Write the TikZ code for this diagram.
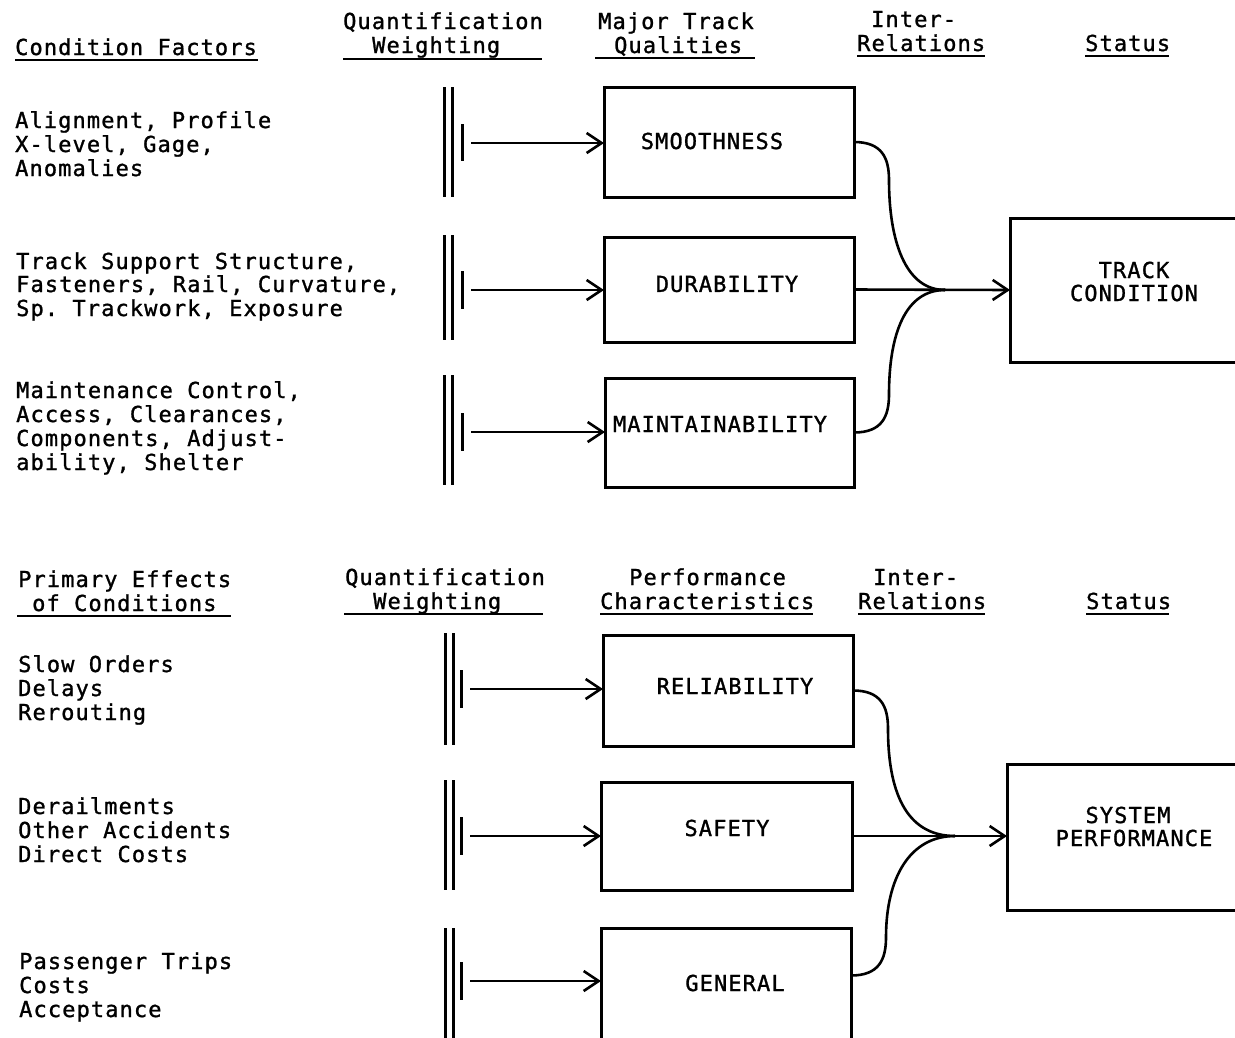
\documentclass[tikz,border=0pt]{standalone}
\usepackage{fontspec}
\setmainfont[LetterSpace=5,FakeBold=1.2]{DejaVu Sans Mono}
\usetikzlibrary{arrows.meta}
\frenchspacing
\begin{document}
\begin{tikzpicture}[x=1pt,y=-1pt,
  txt/.style={anchor=base west,inner sep=0pt,font=\fontsize{22}{24}\selectfont},
  lbl/.style={inner sep=0pt,font=\fontsize{22}{24}\selectfont},
  boxnode/.style={draw,line width=3pt,inner sep=0pt,outer sep=0pt},
  ln/.style={line width=2.6pt},
  arr/.style={line width=2.6pt,-{Straight Barb[length=15pt,width=20pt,line width=2.6pt]}},
  barline/.style={line width=3pt},
  uline/.style={line width=2.4pt}]
\useasboundingbox (0,0) rectangle (1235,1037);
\fill[white] (0,0) rectangle (1235,1037);

% ---------- top headers ----------
\node[txt] (h1) at (15,55) {Condition Factors};
\draw[uline] (15,60) -- (258,60);
\node[txt] (h2a) at (343,29) {Quantification};
\node[txt] (h2b) at (372,53) {Weighting};
\draw[uline] (343,59) -- (542,59);
\node[txt] (h3a) at (598,29) {Major Track};
\node[txt] (h3b) at (614,53) {Qualities};
\draw[uline] (595,58) -- (755,58);
\node[txt] (h4a) at (871,27) {Inter-};
\node[txt] (h4b) at (857,51) {Relations};
\draw[uline] (857,56) -- (985,56);
\node[txt] (h5) at (1085,51) {Status};
\draw[uline] (1085,56) -- (1169,56);

% ---------- top left texts ----------
\node[txt] (a1) at (15,128) {Alignment, Profile};
\node[txt] (a2) at (15,152) {X-level, Gage,};
\node[txt] (a3) at (15,176) {Anomalies};
\node[txt] (b1) at (16,269) {Track Support Structure,};
\node[txt] (b2) at (16,292) {Fasteners, Rail, Curvature,};
\node[txt] (b3) at (16,316) {Sp. Trackwork, Exposure};
\node[txt] (c1) at (16,398) {Maintenance Control,};
\node[txt] (c2) at (16,422) {Access, Clearances,};
\node[txt] (c3) at (16,446) {Components, Adjust-};
\node[txt] (c4) at (16,470) {ability, Shelter};

% ---------- top boxes ----------
\node[boxnode,minimum width=250pt,minimum height=110pt] (smooth) at (729,142) {};
\node[lbl] (t1) at (712,141) {SMOOTHNESS};
\node[boxnode,minimum width=250pt,minimum height=105pt] (dur) at (729,289.5) {};
\node[lbl] (t2) at (727,284) {DURABILITY};
\node[boxnode,minimum width=249pt,minimum height=109pt] (maint) at (729.5,432.5) {};
\node[lbl] (t3) at (720,424) {MAINTAINABILITY};
\node[boxnode,minimum width=250pt,minimum height=144pt] (track) at (1135,290) {};
\node[lbl] (t4a) at (1134,270) {TRACK};
\node[lbl] (t4b) at (1134,293) {CONDITION};

% ---------- bars and arrows, top ----------
\draw[barline] (444,87) -- (444,197) (452,87) -- (452,197) (462,124) -- (462,161);
\coordinate (w1) at (471,143);
\draw[arr] (w1) -- (smooth.west |- w1);
\draw[barline] (444,235) -- (444,340) (452,235) -- (452,340) (462,271) -- (462,309);
\coordinate (w2) at (471,290);
\draw[arr] (w2) -- (dur.west |- w2);
\draw[barline] (444,375) -- (444,485) (452,375) -- (452,485) (462,413) -- (462,451);
\coordinate (w3) at (471,432);
\draw[arr] (w3) -- (maint.west |- w3);

\coordinate (m1) at (945,290);
\draw[ln] (smooth.east) .. controls +(28,0) and +(0,-22) .. ++(35,38)
          .. controls +(0,60) and +(-40,0) .. (m1);
\draw[ln] (maint.east) .. controls +(28,0) and +(0,22) .. ++(35,-38)
          .. controls +(0,-60) and +(-40,0) .. (m1);
\draw[arr] (dur.east) -- (track.west);

% ---------- bottom headers ----------
\node[txt] (k1a) at (18,587) {Primary Effects};
\node[txt] (k1b) at (32,611) {of Conditions};
\draw[uline] (17,616) -- (231,616);
\node[txt] (k2a) at (345,585) {Quantification};
\node[txt] (k2b) at (373,609) {Weighting};
\draw[uline] (344,614) -- (543,614);
\node[txt] (k3a) at (629,585) {Performance};
\node[txt] (k3b) at (600,609) {Characteristics};
\draw[uline] (600,614) -- (813,614);
\node[txt] (k4a) at (873,585) {Inter-};
\node[txt] (k4b) at (858,609) {Relations};
\draw[uline] (858,614) -- (985,614);
\node[txt] (k5) at (1086,609) {Status};
\draw[uline] (1086,614) -- (1169,614);

% ---------- bottom left texts ----------
\node[txt] (d1) at (18,672) {Slow Orders};
\node[txt] (d2) at (18,696) {Delays};
\node[txt] (d3) at (18,720) {Rerouting};
\node[txt] (e1) at (18,814) {Derailments};
\node[txt] (e2) at (18,838) {Other Accidents};
\node[txt] (e3) at (18,862) {Direct Costs};
\node[txt] (f1) at (19,969) {Passenger Trips};
\node[txt] (f2) at (19,993) {Costs};
\node[txt] (f3) at (19,1017) {Acceptance};

% ---------- bottom boxes ----------
\node[boxnode,minimum width=250pt,minimum height=111pt] (rel) at (728,690.5) {};
\node[lbl] (t5) at (735,686) {RELIABILITY};
\node[boxnode,minimum width=251pt,minimum height=108pt] (safe) at (726.5,836) {};
\node[lbl] (t6) at (727,828) {SAFETY};
\node[boxnode,minimum width=250pt,minimum height=117pt] (gen) at (726,986.5) {};
\node[lbl] (t7) at (735,983) {GENERAL};
\node[boxnode,minimum width=250pt,minimum height=146pt] (sys) at (1132,837) {};
\node[lbl] (t8a) at (1128,815) {SYSTEM};
\node[lbl] (t8b) at (1134,838) {PERFORMANCE};

% ---------- bars and arrows, bottom ----------
\draw[barline] (445,633) -- (445,745) (453,633) -- (453,745) (461,670) -- (461,708);
\coordinate (w4) at (470,689);
\draw[arr] (w4) -- (rel.west |- w4);
\draw[barline] (445,780) -- (445,890) (453,780) -- (453,890) (461,817) -- (461,855);
\coordinate (w5) at (470,836);
\draw[arr] (w5) -- (safe.west |- w5);
\draw[barline] (445,928) -- (445,1045) (453,928) -- (453,1045) (461,962) -- (461,1000);
\coordinate (w6) at (470,981);
\draw[arr] (w6) -- (gen.west |- w6);

\coordinate (m2) at (955,836);
\draw[ln] (rel.east) .. controls +(28,0) and +(0,-22) .. ++(35,38)
          .. controls +(0,70) and +(-45,0) .. (m2);
\draw[ln] ([yshift=11pt]gen.east) .. controls +(28,0) and +(0,22) .. ++(35,-38)
          .. controls +(0,-60) and +(-45,0) .. (m2);
\draw[arr] (safe.east) -- (sys.west |- safe.east);
\end{tikzpicture}
\end{document}
